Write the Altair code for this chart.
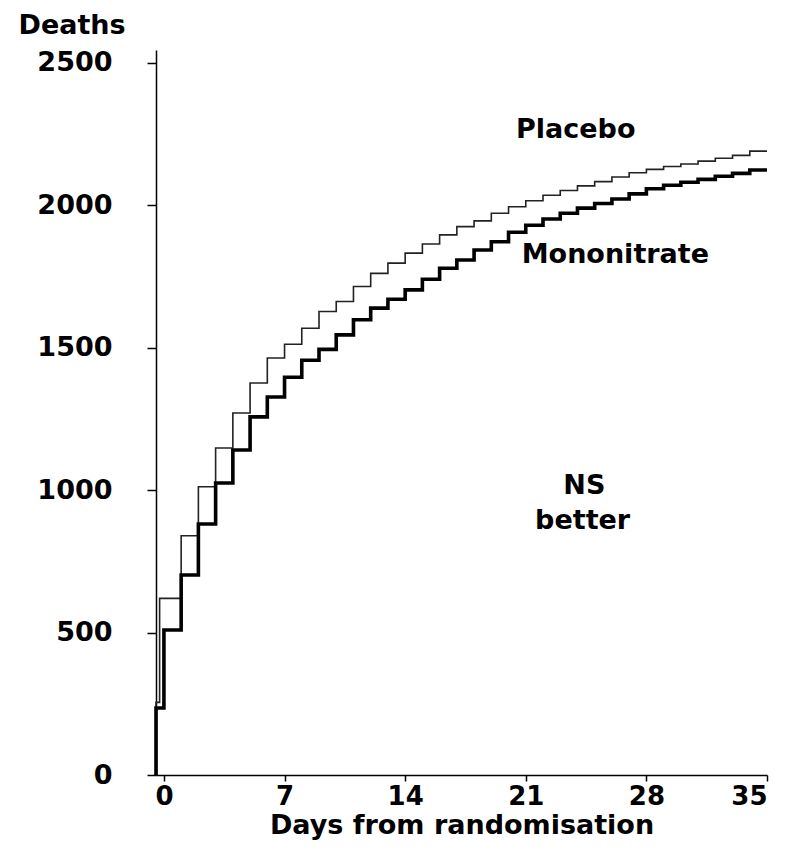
import altair as alt
import pandas as pd

# Day positions of each step (start of randomisation drawn at the axis origin)
mono_days = [-0.46, -0.46] + list(range(0, 35)) + [35]
mono_deaths = [0, 235,
               509, 702, 881, 1025, 1141, 1257, 1327, 1396, 1456, 1494,
               1545, 1598, 1639, 1670, 1703, 1740, 1779, 1808, 1843, 1872,
               1905, 1930, 1952, 1972, 1990, 2006, 2022, 2040, 2058, 2070,
               2081, 2091, 2102, 2112, 2124,
               2124]

plac_days = [-0.46, -0.46, -0.25] + list(range(1, 35)) + [35]
plac_deaths = [0, 255, 620,
               840, 1012, 1148, 1271, 1376, 1464, 1512, 1568, 1627,
               1662, 1715, 1761, 1797, 1832, 1864, 1896, 1925, 1945, 1972,
               1995, 2016, 2035, 2052, 2068, 2083, 2099, 2114, 2126, 2136,
               2145, 2155, 2165, 2175, 2190,
               2190]

x_ticks = [0, 7, 14, 21, 28, 35]
y_ticks = [0, 500, 1000, 1500, 2000, 2500]

label_text = ["Placebo", "Mononitrate", "NS", "better"]
label_day = [23.9, 26.2, 24.4, 24.3]
label_deaths = [2265, 1826, 1015, 892]

FONT = "DejaVu Sans"
FS = 27

mono_df = pd.DataFrame({"day": mono_days, "deaths": mono_deaths, "order": range(len(mono_days))})
plac_df = pd.DataFrame({"day": plac_days, "deaths": plac_deaths, "order": range(len(plac_days))})
lab_df = pd.DataFrame({"text": label_text, "day": label_day, "deaths": label_deaths})

xscale = alt.Scale(domain=[-0.46, 35], nice=False, zero=False)
yscale = alt.Scale(domain=[0, 2545], nice=False, zero=True)

xenc = alt.X("day:Q", scale=xscale,
             axis=alt.Axis(values=x_ticks, title="Days from randomisation",
                           tickSize=6, labelPadding=2, titlePadding=3,
                           labelFontSize=26, titleFontSize=27))
yenc = alt.Y("deaths:Q", scale=yscale,
             axis=alt.Axis(values=y_ticks, format="d", title="Deaths", titleAngle=0,
                           titleAlign="left", titleBaseline="alphabetic",
                           titleX=-138, titleY=-17, tickSize=9, labelPadding=35))

plac = alt.Chart(plac_df).mark_line(interpolate="step-after", color="#222222",
                                    strokeWidth=1.6).encode(
    x=xenc, y=yenc, order="order:Q")
mono = alt.Chart(mono_df).mark_line(interpolate="step-after", color="black",
                                    strokeWidth=3.6).encode(
    x=alt.X("day:Q", scale=xscale), y=alt.Y("deaths:Q", scale=yscale), order="order:Q")
labels = alt.Chart(lab_df).mark_text(font=FONT, fontWeight="bold", fontSize=FS,
                                      color="black", align="center", baseline="middle").encode(
    x=alt.X("day:Q", scale=xscale), y=alt.Y("deaths:Q", scale=yscale), text="text:N")

chart = alt.layer(plac, mono, labels).properties(
    width=611, height=725,
    padding={"left": 148, "top": 42, "right": 12, "bottom": 70},
    autosize=alt.AutoSizeParams(type="none"),
).configure_view(stroke=None).configure_axis(
    grid=False, domainColor="black", domainWidth=1.5, tickColor="black", tickWidth=1.5,
    labelColor="black", labelFont=FONT, labelFontWeight="bold", labelFontSize=FS,
    titleColor="black", titleFont=FONT, titleFontWeight="bold", titleFontSize=FS,
)

chart.save("out.html", embed_options={"renderer": "svg", "actions": False})
